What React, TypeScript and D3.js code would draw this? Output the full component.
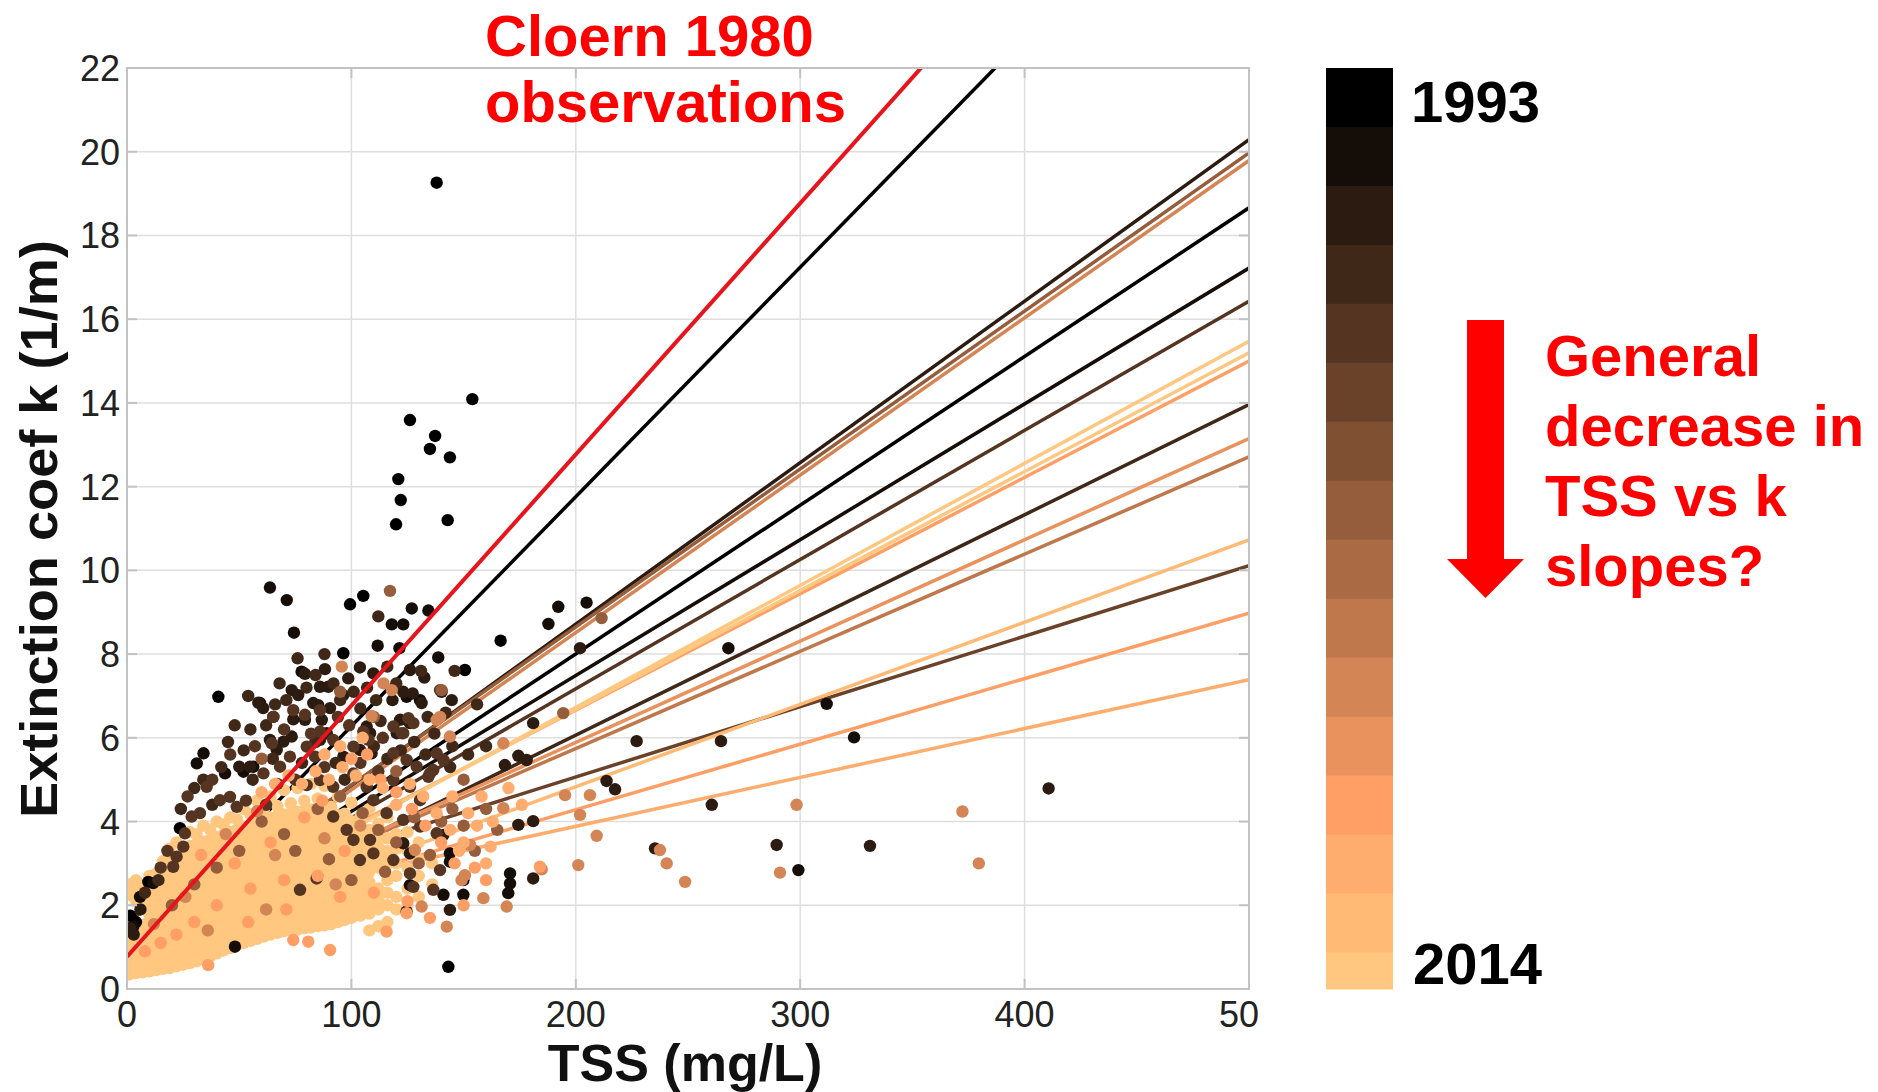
import React from "react";
import * as d3 from "d3";

const WIDTH = 1878;
const HEIGHT = 1092;
const FONT = "'Liberation Sans', Arial, Helvetica, sans-serif";

const xTicks = [0, 100, 200, 300, 400, 500];
const yTicks = [0, 2, 4, 6, 8, 10, 12, 14, 16, 18, 20, 22];
const firstYear = 1993;
const lastYear = 2014;
const nColours = 16;
const cbarBandsShown = 15.62; // last band is cut off in the original

// Cloern (1980): k = 0.77 + 0.06 * TSS
const cloernIntercept = 0.77;
const cloernSlope = 0.06;

// yearly regression fits: k at TSS = 0 and k at TSS = 500
const fitYear = [1993, 1994, 1995, 1996, 1997, 1999, 2000, 2003, 2006, 2007, 2008, 2009, 2010, 2011, 2012, 2013, 2014];
const fitK0 = [0.8, 0.9, 1.0, 1.0, 0.8, 1.0, 1.7, 1.1, 1.1, 1.0, 1.05, 1.1, 1.15, 1.55, 0.9, 0.9, 1.0];
const fitK500 = [28.2, 18.66, 17.22, 20.29, 13.96, 16.43, 10.11, 19.97, 12.71, 19.79, 13.15, 15.0, 8.98, 7.39, 10.73, 15.47, 15.2];

// observations [TSS, k] by year
const obs1993: [number, number][] = [
  [138, 19.26], [153.9, 14.09], [126.1, 13.59], [137.3, 13.21], [135, 12.9], [143.9, 12.7],
  [120.9, 12.18], [122, 11.68], [119.9, 11.1], [142.9, 11.2], [99.4, 9.19], [105.3, 9.39],
  [96.4, 8.02], [40.7, 6.98], [143.2, 0.53], [166.5, 8.32], [150.6, 7.62], [9.5, 2.56],
  [23.6, 3.84], [1.5, 1.75], [4, 1.6],
];
const obs1995: [number, number][] = [
  [63.7, 9.59], [71.2, 9.29], [74.4, 8.51], [126.9, 9.09], [134.3, 9.04], [118, 8.71],
  [123.1, 8.71], [111.7, 8.2], [121.4, 8.14], [138.7, 7.92], [192.2, 9.13], [204.8, 9.23],
  [187.8, 8.72], [268, 8.14], [311.8, 6.81], [324, 6.01], [299.2, 2.84], [170.7, 2.76],
  [170.7, 2.52], [169.9, 2.29], [143.9, 3.24], [143.9, 3.04], [141, 2.25], [149.9, 2.6],
  [149.9, 2.25], [31.1, 5.39], [34.1, 5.63], [43.7, 5.15], [51.9, 5.19], [56.3, 5.31],
  [77.8, 7.58], [59.3, 6.83], [124.6, 6.98], [130.6, 6.9], [5.8, 2.2], [2.8, 1.49],
  [11.7, 2.53], [126.1, 2.48], [48.1, 1.01],
];
const obs1996: [number, number][] = [
  [79.3, 7.53], [88.2, 7.64], [103.8, 7.68], [98.6, 7.42], [109.8, 7.54], [126.1, 7.62],
  [132.5, 7.44], [73.4, 7.14], [76.3, 7.02], [86, 7.22], [89.7, 7.22], [96.4, 7.02],
  [118.3, 6.9], [123.1, 7.1], [127.3, 7.06], [131.3, 6.83], [140.2, 7.1], [144.7, 6.9],
  [58.5, 6.84], [60.7, 6.71], [65.2, 6.5], [83, 6.83], [85.2, 6.78], [74.1, 6.44],
  [79.3, 6.43], [86.8, 6.43], [90.5, 6.71], [106.8, 6.27], [121.7, 6.43], [126.1, 6.35],
  [120.2, 6.11], [63.7, 5.95], [69.7, 5.91], [73.4, 6.03], [86, 5.95], [89, 6.11],
  [108.3, 6.11], [96.4, 5.55], [103.8, 5.71], [109, 5.63], [66.7, 5.71], [50, 5.31],
  [54.8, 5.31], [410.7, 4.79], [331.1, 3.42], [289.5, 3.44], [260.6, 4.4], [264.7, 5.92],
  [227.1, 5.92], [213.7, 4.97], [217.5, 4.77], [201.9, 8.14], [181, 6.35], [174.4, 5.57],
  [178.1, 5.47], [168.4, 5.35], [235.3, 3.36], [174.4, 3.92], [181, 4.01], [181, 2.64],
  [141, 3.68], [123.1, 3.48], [126.1, 3.24], [124.6, 1.85], [143.9, 1.89], [1.5, 1.45],
  [6, 1.9], [3, 1.3],
];
const obs1997: [number, number][] = [
  [45, 5.9], [48, 6.3], [52, 5.7], [55, 6.2], [62, 6.3], [66, 6.8], [68, 7.3], [71, 6.9],
  [76, 7.9], [80, 7.2], [84, 7.5], [92, 7.3], [95, 6.9], [101, 7.1], [104, 6.7], [107, 7.2],
  [111, 6.9], [113, 6.4], [116, 7.7], [120, 7.3], [131, 7.6], [134, 6.5], [137, 6.1],
  [142, 6.6], [145, 5.8], [30, 4.8], [34, 5.0], [38, 4.4], [42, 5.3], [24, 4.3], [56, 5.0],
  [65, 5.5], [78, 5.4], [84, 5.9], [93, 5.4], [97, 5.0], [110, 5.8], [116, 5.5], [122, 5.7],
  [128, 5.9], [133, 5.6], [144, 5.3], [152, 5.6], [160, 5.8], [156, 6.8], [146, 7.6],
  [112, 8.9], [88, 8.0], [54, 7.0], [14, 2.6], [8, 2.3],
];
const obs1999: [number, number][] = [
  [35.5, 4.83], [60.8, 5.15], [65.2, 6.5], [74.1, 6.66], [79.3, 6.55], [86, 6.66],
  [64.5, 5.87], [68.2, 5.31], [72.6, 5.55], [80.1, 5.79], [83.8, 5.55], [91.9, 5.95],
  [86, 6.15], [100.9, 5.79], [105.3, 6.15], [107.6, 5.95], [118.7, 6.27], [123.1, 6.11],
  [118.7, 5.63], [139.5, 7.14], [45.9, 4.59], [41.4, 4.51], [48.9, 4.35], [32.5, 4.2],
  [28.8, 4.12], [25.8, 3.72], [22.1, 3.16], [25.1, 3.4], [20.6, 2.92], [80.1, 4.87],
  [86, 4.99], [91.9, 4.83], [100.9, 5.15], [106.8, 4.83], [118.7, 4.99], [126.1, 4.83],
  [135, 5.15], [130.6, 4.51], [109.8, 4.51], [115.7, 4.2], [123.1, 4.04], [130.6, 3.88],
  [138, 3.72], [91.9, 4.12], [97.9, 3.8], [100.9, 3.56], [108.3, 3.56], [103.8, 3.08],
  [109.8, 3.24], [118.7, 3.08], [126.1, 2.76], [136.5, 2.37], [139.5, 2.84], [127.6, 2.44],
  [77.1, 2.37], [84.5, 2.64], [138, 5.63], [141, 5.47], [136.5, 5.23], [134.3, 5.07],
  [129.1, 5.31], [124.6, 5.47], [125.4, 6.47], [127.6, 6.35], [122.4, 6.11], [15, 2.9],
  [18, 3.3], [27, 4.6], [38, 5.0], [46, 5.6], [53, 4.5], [57, 5.8], [62, 4.4], [67, 4.9],
  [70, 6.2], [75, 5.0], [82, 6.1], [88, 5.3], [94, 6.5], [99, 6.3], [104, 5.4], [112, 5.2],
  [114, 6.0],
];
const obs2003: [number, number][] = [
  [117.2, 9.51], [211.5, 8.86], [194.4, 6.59], [140.2, 7.14], [60, 4.0], [70, 3.7],
  [85, 4.3], [95, 4.6], [105, 4.2], [112, 3.8], [120, 3.5], [128, 4.1], [135, 3.2],
  [140, 4.0], [115, 2.8], [100, 2.6], [90, 3.1], [75, 3.3], [50, 3.3], [40, 2.9],
  [30, 2.5], [20, 2.0], [110, 6.5], [95, 7.1], [120, 5.2], [60, 5.5], [130, 3.0],
  [145, 4.3], [150, 3.9], [155, 3.3], [150, 5.0], [160, 4.3], [165, 3.8],
];
const obs2007: [number, number][] = [
  [95.7, 7.7], [114.3, 7.3], [118, 7.14], [109, 6.52], [138, 6.43], [139.5, 6.5],
  [143.9, 6.03], [167.7, 5.87], [195.2, 4.63], [206.3, 4.63], [167.7, 4.32], [298.4, 4.4],
  [201.9, 4.16], [209.3, 3.66], [128.3, 3.32], [152.9, 3.44], [237.5, 3.32], [240.5, 3.0],
  [248.7, 2.56], [291, 2.78], [201.1, 2.96], [184.8, 2.86], [169.2, 1.97], [158.8, 2.17],
  [150.6, 2.72], [131.3, 1.97], [142.5, 1.49], [372.3, 4.24], [379.6, 3.0], [149.1, 2.6],
  [44, 3.7], [58, 4.25], [66, 3.2], [88, 3.6], [26, 2.2], [12, 1.55], [36, 1.4],
  [62, 1.9], [93, 2.5], [104, 3.9],
];
const obs2009: [number, number][] = [
  [100, 5.5], [107, 5.6], [113, 5.0], [120, 4.7], [127, 4.3], [133, 3.9], [140, 3.5],
  [146, 3.0], [155, 2.9], [160, 2.6], [150, 2.0], [135, 1.7], [125, 2.1], [110, 2.3],
  [95, 2.2], [85, 2.7], [70, 2.6], [55, 2.4], [40, 2.0], [30, 1.6], [15, 1.1],
  [124.6, 1.81], [115.7, 1.37], [90.5, 0.93], [80.8, 1.13], [74.1, 1.17], [36.2, 0.57],
  [184, 2.92], [48, 3.0], [64, 3.5], [79, 4.1], [97, 3.3], [22, 1.3], [8, 0.9],
  [54, 1.6], [71, 1.9], [87, 4.5], [33, 3.2],
];
const obs2011: [number, number][] = [
  [60, 4.7], [66, 4.9], [72, 5.1], [78, 4.9], [84, 5.2], [90, 5.0], [96, 5.3], [102, 5.1],
  [108, 5.0], [114, 4.8], [120, 4.4], [126, 4.9], [132, 4.6], [138, 4.2], [144, 3.8],
  [150, 3.5], [156, 3.9], [162, 3.4], [95, 5.8], [105, 6.0], [88, 5.6], [145, 4.6],
  [152, 4.2], [158, 4.6], [163, 4.0], [170, 4.8], [176, 4.4], [148, 3.3], [160, 3.0],
];
// dense cloud of recent samples: [TSS, k values]
const cloud2014: [number, number[]][] = [
  [1, [0.35, 0.55, 0.78, 1.0, 1.2, 2.25, 2.5]],
  [4, [0.38, 0.6, 0.82, 1.05, 1.28, 2.1, 2.35, 2.6]],
  [7, [0.4, 0.62, 0.85, 1.08, 1.3, 1.52, 1.95, 2.2, 2.45]],
  [10, [0.42, 0.65, 0.88, 1.1, 1.33, 1.56, 1.78, 2.0, 2.23, 2.47, 2.7]],
  [13, [0.45, 0.68, 0.9, 1.13, 1.36, 1.59, 1.82, 2.05, 2.28, 2.5, 2.75]],
  [16, [0.48, 0.7, 0.93, 1.16, 1.39, 1.62, 1.85, 2.08, 2.3, 2.55, 2.8, 3.05]],
  [19, [0.5, 0.73, 0.96, 1.19, 1.42, 1.65, 1.88, 2.11, 2.34, 2.58, 2.82, 3.1, 3.35]],
  [22, [0.54, 0.77, 1.0, 1.23, 1.46, 1.69, 1.92, 2.15, 2.38, 2.62, 2.86, 3.1, 3.5]],
  [25, [0.58, 0.81, 1.04, 1.27, 1.5, 1.73, 1.96, 2.19, 2.42, 2.66, 2.9, 3.14, 3.38]],
  [28, [0.62, 0.85, 1.08, 1.31, 1.54, 1.77, 2.0, 2.23, 2.46, 2.7, 2.94, 3.18, 3.42, 3.75]],
  [31, [0.66, 0.9, 1.13, 1.36, 1.59, 1.82, 2.05, 2.28, 2.51, 2.75, 2.99, 3.23, 3.47, 3.7]],
  [34, [0.72, 0.95, 1.18, 1.41, 1.64, 1.87, 2.1, 2.33, 2.56, 2.8, 3.04, 3.28, 3.52, 3.9]],
  [37, [0.78, 1.0, 1.23, 1.46, 1.69, 1.92, 2.15, 2.38, 2.61, 2.85, 3.09, 3.33, 3.57, 3.81]],
  [40, [0.85, 1.06, 1.29, 1.52, 1.75, 1.98, 2.21, 2.44, 2.67, 2.91, 3.15, 3.39, 3.63, 4.0]],
  [43, [0.92, 1.12, 1.35, 1.58, 1.81, 2.04, 2.27, 2.5, 2.73, 2.97, 3.21, 3.45, 3.69, 3.93]],
  [46, [0.98, 1.18, 1.41, 1.64, 1.87, 2.1, 2.33, 2.56, 2.79, 3.03, 3.27, 3.51, 3.75, 4.1]],
  [49, [1.04, 1.24, 1.47, 1.7, 1.93, 2.16, 2.39, 2.62, 2.85, 3.09, 3.33, 3.57, 3.81, 4.05]],
  [52, [1.1, 1.3, 1.53, 1.76, 1.99, 2.22, 2.45, 2.68, 2.91, 3.15, 3.39, 3.63, 3.87, 4.3]],
  [55, [1.15, 1.36, 1.59, 1.82, 2.05, 2.28, 2.51, 2.74, 2.97, 3.21, 3.45, 3.69, 3.93, 4.17]],
  [58, [1.2, 1.42, 1.65, 1.88, 2.11, 2.34, 2.57, 2.8, 3.03, 3.27, 3.51, 3.75, 3.99, 4.5]],
  [61, [1.25, 1.48, 1.71, 1.94, 2.17, 2.4, 2.63, 2.86, 3.09, 3.33, 3.57, 3.81, 4.05, 4.29]],
  [64, [1.3, 1.52, 1.75, 1.98, 2.21, 2.44, 2.67, 2.9, 3.13, 3.37, 3.61, 3.85, 4.09, 4.6]],
  [67, [1.34, 1.56, 1.79, 2.02, 2.25, 2.48, 2.71, 2.94, 3.17, 3.41, 3.65, 3.89, 4.13, 4.37]],
  [70, [1.38, 1.6, 1.83, 2.06, 2.29, 2.52, 2.75, 2.98, 3.21, 3.45, 3.69, 3.93, 4.17, 4.75]],
  [73, [1.4, 1.63, 1.86, 2.09, 2.32, 2.55, 2.78, 3.01, 3.24, 3.48, 3.72, 3.96, 4.2, 4.44]],
  [76, [1.42, 1.66, 1.89, 2.12, 2.35, 2.58, 2.81, 3.04, 3.27, 3.51, 3.75, 3.99, 4.23, 4.8]],
  [79, [1.45, 1.69, 1.92, 2.15, 2.38, 2.61, 2.84, 3.07, 3.3, 3.54, 3.78, 4.02, 4.26, 4.5]],
  [82, [1.47, 1.72, 1.95, 2.18, 2.41, 2.64, 2.87, 3.1, 3.33, 3.57, 3.81, 4.05, 4.29, 4.9]],
  [85, [1.5, 1.74, 1.97, 2.2, 2.43, 2.66, 2.89, 3.12, 3.35, 3.59, 3.83, 4.07, 4.31, 4.55]],
  [88, [1.52, 1.76, 1.99, 2.22, 2.45, 2.68, 2.91, 3.14, 3.37, 3.61, 3.85, 4.09, 4.33, 4.85]],
  [91, [1.55, 1.78, 2.01, 2.24, 2.47, 2.7, 2.93, 3.16, 3.39, 3.63, 3.87, 4.11, 4.35]],
  [94, [1.6, 1.82, 2.05, 2.28, 2.51, 2.74, 2.97, 3.2, 3.43, 3.67, 3.91, 4.15, 4.6]],
  [97, [1.65, 1.86, 2.09, 2.32, 2.55, 2.78, 3.01, 3.24, 3.47, 3.71, 3.95, 4.19]],
  [100, [1.7, 1.92, 2.15, 2.38, 2.61, 2.84, 3.07, 3.3, 3.53, 3.77, 4.01, 4.45]],
  [104, [1.75, 1.98, 2.2, 2.44, 2.68, 2.92, 3.16, 3.4, 3.64, 3.88, 4.12]],
  [108, [1.4, 1.8, 2.05, 2.3, 2.55, 2.8, 3.05, 3.3, 3.55, 3.8, 4.3]],
  [112, [1.5, 1.9, 2.15, 2.4, 2.9, 3.15, 3.4, 3.65, 3.95]],
  [116, [1.6, 2.0, 2.3, 2.6, 3.0, 3.3, 3.6, 4.1]],
  [120, [1.9, 2.2, 2.7, 3.0, 3.35, 3.7]],
  [125, [2.0, 2.4, 2.9, 3.3, 3.75]],
  [130, [2.2, 2.7, 3.1, 3.5]],
  [136, [2.5, 3.0]],
];

const copper = (t: number) =>
  d3.rgb(255 * Math.min(1, 1.25 * t), 255 * 0.7812 * t, 255 * 0.4975 * t).formatHex();
const bandOf = (yr: number) =>
  Math.min(nColours - 1, Math.floor(((yr - firstYear) / (lastYear - firstYear)) * nColours));
const yearColour = (yr: number) => copper(bandOf(yr) / (nColours - 1));

export default function App() {
  const margin = { left: 127, right: 629, top: 68, bottom: 103 };
  const x = d3.scaleLinear().domain([0, 500]).range([margin.left, WIDTH - margin.right]);
  const y = d3.scaleLinear().domain([0, 22]).range([HEIGHT - margin.bottom, margin.top]);
  const [x0, x1] = x.range();
  const [y0, y1] = y.range();

  const cbar = d3.scaleLinear().domain([0, cbarBandsShown]).range([y1, y0]);
  const cbarX = 1326;
  const cbarW = 67;

  const obsGroups: { year: number; pts: [number, number][] }[] = [
    { year: 1993, pts: obs1993 },
    { year: 1995, pts: obs1995 },
    { year: 1996, pts: obs1996 },
    { year: 1997, pts: obs1997 },
    { year: 1999, pts: obs1999 },
    { year: 2003, pts: obs2003 },
    { year: 2007, pts: obs2007 },
    { year: 2009, pts: obs2009 },
    { year: 2011, pts: obs2011 },
  ];
  const cloudPts = cloud2014.flatMap(([t, ks]) => ks.map((k) => [t, k] as [number, number]));

  const line = d3
    .line<[number, number]>()
    .x((d) => x(d[0]))
    .y((d) => y(d[1]));

  const gridCol = "#dedede";
  const boxCol = "#c2c2c2";
  const red = "#ff0000";
  const dotR = 6.2;

  return (
    <svg
      width={WIDTH}
      height={HEIGHT}
      style={{ display: "block", position: "absolute", left: 0, top: 0, background: "#fff" }}
      fontFamily={FONT}
    >
      <defs>
        <clipPath id="plotClip">
          <rect x={x0} y={y1} width={x1 - x0} height={y0 - y1} />
        </clipPath>
        <clipPath id="labelClip">
          <rect x={0} y={0} width={1260} height={HEIGHT} />
        </clipPath>
      </defs>
      <rect width={WIDTH} height={HEIGHT} fill="#fff" />

      {/* grid */}
      <g stroke={gridCol} strokeWidth={1.5}>
        {xTicks.slice(1, -1).map((t) => (
          <line key={t} x1={x(t)} x2={x(t)} y1={y1} y2={y0} />
        ))}
        {yTicks.slice(1, -1).map((t) => (
          <line key={t} x1={x0} x2={x1} y1={y(t)} y2={y(t)} />
        ))}
      </g>

      {/* data */}
      <g clipPath="url(#plotClip)">
        {fitYear.map((yr, i) => (
          <path
            key={yr}
            d={line([[0, fitK0[i]], [500, fitK500[i]]]) || ""}
            stroke={yearColour(yr)}
            strokeWidth={3.5}
            fill="none"
          />
        ))}
        <g fill={yearColour(2014)}>
          {cloudPts.map((p, i) => (
            <circle key={i} cx={x(p[0])} cy={y(p[1])} r={dotR} />
          ))}
        </g>
        {obsGroups.map((g) => (
          <g key={g.year} fill={yearColour(g.year)}>
            {g.pts.map((p, i) => (
              <circle key={i} cx={x(p[0])} cy={y(p[1])} r={dotR} />
            ))}
          </g>
        ))}
        <path
          d={line([[0, cloernIntercept], [500, cloernIntercept + cloernSlope * 500]]) || ""}
          stroke="#e8141b"
          strokeWidth={4}
          fill="none"
        />
      </g>

      {/* box + ticks */}
      <rect x={x0} y={y1} width={x1 - x0} height={y0 - y1} fill="none" stroke={boxCol} strokeWidth={2} />
      <g stroke={boxCol} strokeWidth={2}>
        {xTicks.map((t) => (
          <g key={t}>
            <line x1={x(t)} x2={x(t)} y1={y0} y2={y0 - 10} />
            <line x1={x(t)} x2={x(t)} y1={y1} y2={y1 + 10} />
          </g>
        ))}
        {yTicks.map((t) => (
          <g key={t}>
            <line x1={x0} x2={x0 + 10} y1={y(t)} y2={y(t)} />
            <line x1={x1} x2={x1 - 10} y1={y(t)} y2={y(t)} />
          </g>
        ))}
      </g>

      {/* tick labels */}
      <g fontSize={36} fill="#222">
        {yTicks.map((t) => (
          <text key={t} x={x0 - 7} y={y(t)} dy="0.36em" textAnchor="end">
            {t}
          </text>
        ))}
        <g clipPath="url(#labelClip)">
          {xTicks.map((t) => (
            <text key={t} x={x(t)} y={1027} textAnchor="middle">
              {t}
            </text>
          ))}
        </g>
      </g>

      {/* axis titles */}
      <text x={685} y={1081} textAnchor="middle" fontSize={52} fontWeight="bold" fill="#111">
        TSS (mg/L)
      </text>
      <text
        transform={`translate(57,529) rotate(-90)`}
        textAnchor="middle"
        fontSize={52}
        fontWeight="bold"
        fill="#111"
        textLength={578}
        lengthAdjust="spacingAndGlyphs"
      >
        Extinction coef k (1/m)
      </text>

      {/* Cloern annotation */}
      <g fontSize={58} fontWeight="bold" fill={red}>
        <text x={485} y={56}>Cloern 1980</text>
        <text x={485} y={122}>observations</text>
      </g>

      {/* colour bar */}
      <g>
        {d3.range(nColours).map((i) => (
          <rect
            key={i}
            x={cbarX}
            y={cbar(i)}
            width={cbarW}
            height={cbar(Math.min(i + 1, cbarBandsShown)) - cbar(i) + 0.5}
            fill={copper(i / (nColours - 1))}
          />
        ))}
      </g>
      <g fontSize={58} fontWeight="bold" fill="#000">
        <text x={1411} y={122}>{firstYear}</text>
        <text x={1413} y={984}>{lastYear}</text>
      </g>

      {/* trend arrow + note */}
      <polygon
        points="1467,320 1504,320 1504,559 1524,559 1485.5,598 1447,559 1467,559"
        fill={red}
      />
      <g fontSize={58} fontWeight="bold" fill={red}>
        <text x={1545} y={376}>General</text>
        <text x={1545} y={446}>decrease in</text>
        <text x={1545} y={516}>TSS vs k</text>
        <text x={1545} y={586}>slopes?</text>
      </g>
    </svg>
  );
}
